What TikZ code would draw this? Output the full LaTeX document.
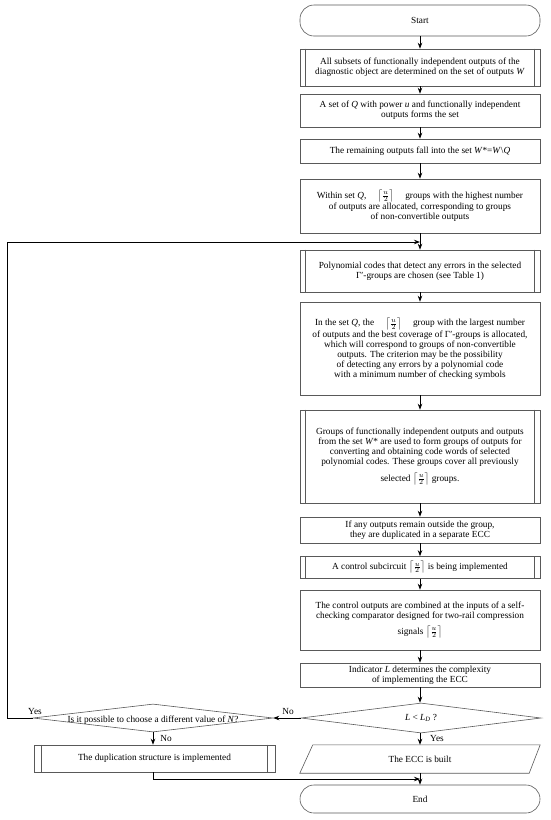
\documentclass[tikz,border=0pt]{standalone}
\usepackage{fontspec}
\setmainfont{Liberation Serif}
\usetikzlibrary{shapes.geometric,arrows.meta}
\newcommand\fs{\fontsize{9.3}{10}\selectfont}
\newcommand\hu{$\left\lceil\frac{u}{2}\right\rceil$}
\tikzset{
  box/.style={draw=black!65, line width=0.6pt, minimum width=240pt, align=center, inner sep=2pt, font=\fs},
  term/.style={box, rounded corners=14pt},
  plain/.style={inner sep=1pt, align=center, font=\fs},
  dia/.style={draw=black!65, line width=0.6pt, shape=diamond, inner sep=0pt, minimum width=240pt},
  arr/.style={line width=0.8pt, -{Stealth[length=6pt,width=4.5pt]}},
  ln/.style={line width=0.8pt}
}
\begin{document}
\begin{tikzpicture}[x=1pt,y=-1pt]
\useasboundingbox (0,0) rectangle (550,820);
\node[term, minimum height=31pt] (start) at (420,20.5) {Start};
\node[box, minimum height=37pt] (b1) at (420,67.5) {All subsets of functionally independent outputs of the\\diagnostic object are determined on the set of outputs \textit{W}};
\node[box, minimum height=33pt] (b2) at (420,110.5) {A set of \textit{Q} with power \textit{u} and functionally independent\\outputs forms the set};
\node[box, minimum height=24pt] (b3) at (420,151) {The remaining outputs fall into the set \textit{W}*=\textit{W}\textbackslash\textit{Q}};
\node[box, minimum height=54pt] (b4) at (420,206) {Within set \textit{Q},\hspace{1.2em}\hu\hspace{1.2em}groups with the highest number\\of outputs are allocated, corresponding to groups\\of non-convertible outputs};
\node[box, minimum height=42pt] (b5) at (420,271) {Polynomial codes that detect any errors in the selected\\Γ′-groups are chosen (see Table 1)};
\node[box, minimum height=93pt] (b6) at (420,348.5) {In the set \textit{Q}, the\hspace{1.2em}\hu\hspace{1.2em}group with the largest number\\of outputs and the best coverage of Γ′-groups is allocated,\\which will correspond to groups of non-convertible\\outputs. The criterion may be the possibility\\of detecting any errors by a polynomial code\\with a minimum number of checking symbols};
\node[box, minimum height=93pt] (b7) at (420,456.5) {Groups of functionally independent outputs and outputs\\from the set \textit{W}* are used to form groups of outputs for\\converting and obtaining code words of selected\\polynomial codes. These groups cover all previously\\[5pt]selected \hu\ groups.};
\node[box, minimum height=26pt] (b8) at (420,530) {If any outputs remain outside the group,\\they are duplicated in a separate ECC};
\node[box, minimum height=22pt, inner sep=0pt] (b9) at (420,567.5) {A control subcircuit \hu\ is being implemented};
\node[box, minimum height=60pt] (b10) at (420,620) {The control outputs are combined at the inputs of a self-\\checking comparator designed for two-rail compression\\[5pt]signals \hu};
\node[box, minimum height=24pt] (b11) at (420,675) {Indicator \textit{L} determines the complexity\\of implementing the ECC};
\node[dia, minimum height=30pt] (d1) at (421,718) {};
\node[plain] (d1t) at (d1.center) {\textit{L} < \textit{L}\textsubscript{\textit{D}} ?};
\node[plain, minimum width=240pt, minimum height=28pt] (par) at (420,759) {The ECC is built};
\draw[draw=black!65, line width=0.6pt] ([xshift=13pt]par.north west) -- (par.north east) -- ([xshift=-11pt]par.south east) -- (par.south west) -- cycle;
\node[term, minimum height=28pt] (end) at (420,799) {End};
\node[dia, minimum height=28pt] (d2) at (153,718) {};
\node[plain] (d2t) at ([yshift=-2pt]d2.center) {Is it possible to choose a different value of \textit{N}?};
\node[box, minimum width=241pt, minimum height=27pt] (dup) at (154.5,758.5) {The duplication structure is implemented};
% predefined process side lines
\foreach \n in {b1,b5,b7,b9}
  \draw[draw=black!65, line width=0.6pt] ([xshift=6pt]\n.north west) -- ([xshift=6pt]\n.south west)
        ([xshift=-6pt]\n.north east) -- ([xshift=-6pt]\n.south east);
\draw[draw=black!65, line width=0.6pt] ([xshift=8pt]dup.north west) -- ([xshift=8pt]dup.south west)
        ([xshift=-8pt]dup.north east) -- ([xshift=-8pt]dup.south east);
% connectors
\coordinate (j1) at (420,242);
\coordinate (j2) at (420,779);
\draw[arr] (start) -- (b1);
\draw[arr] (b1) -- (b2);
\draw[arr] (b2) -- (b3);
\draw[arr] (b3) -- (b4);
\draw[arr] (b4) -- (b5);
\draw[arr] (b5) -- (b6);
\draw[arr] (b6) -- (b7);
\draw[arr] (b7) -- (b8);
\draw[arr] (b8) -- (b9);
\draw[arr] (b9) -- (b10);
\draw[arr] (b10) -- (b11);
\draw[arr] (b11) -- (d1.north -| b11);
\draw[arr] (d1.south -| par) -- (par.north);
\draw[arr] (par) -- (end);
\draw[arr] (d1.west) -- (d2.east);
\draw[arr] (d2.south) -- (d2.south |- dup.north);
\draw[arr] (d2.west) -- (7,718) -- (7,242) -- (j1);
\draw[arr] (dup.south -| d2) -- (153,779) -- (j2);
% labels
\node[plain] (lyes1) at (35,711) {Yes};
\node[plain] (lno1) at (288,711) {No};
\node[plain] (lno2) at (166,738) {No};
\node[plain] (lyes2) at (437,738) {Yes};
\end{tikzpicture}
\end{document}
